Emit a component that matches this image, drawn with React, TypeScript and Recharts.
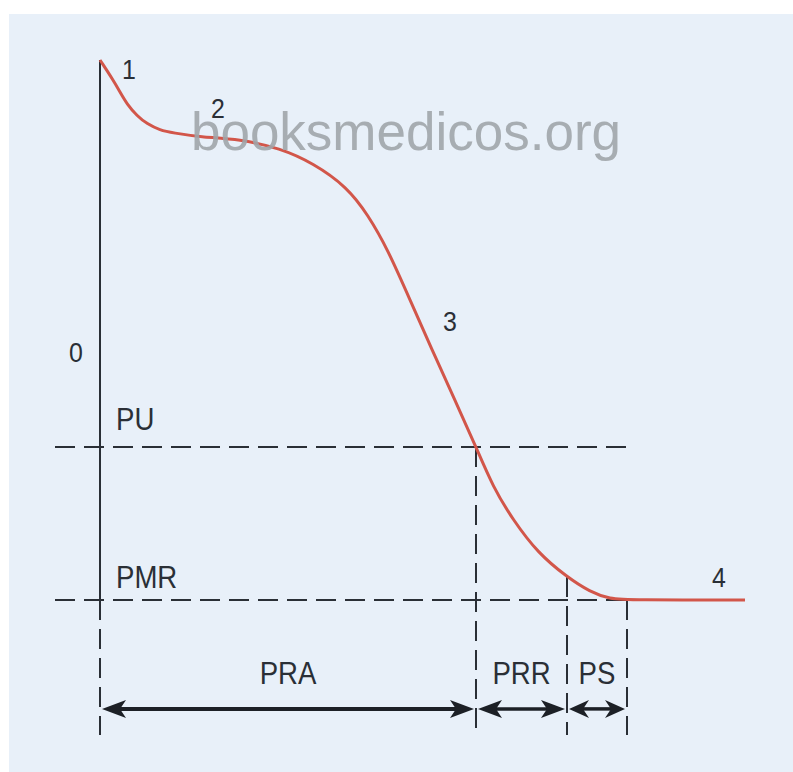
import { LineChart, Line, XAxis, YAxis, ReferenceLine, ReferenceDot } from 'recharts'

// cardiac action potential: time (ms) vs membrane potential (mV)
const timeMs = [0, 5.2, 8, 10.8, 14.8, 18.8, 24, 29.2, 40, 56, 72, 85.2, 98.8, 107.2, 115.2, 124, 132.8, 142, 150.4, 157.2, 165.2, 175.2, 186.8, 196, 204, 212, 258]
const potentialMv = [30, 25.6, 22.9, 20.2, 17.6, 15.8, 14.4, 13.8, 12.9, 12.4, 10.4, 7.1, 1.8, -4.4, -12.2, -23.3, -34.4, -45.6, -56, -64.9, -72.2, -79.6, -84.9, -88.2, -89.8, -90, -90]

const PEAK = 30
const PU = -56 // umbral
const PMR = -90 // potencial de membrana en reposo
// limits of the refractory periods (ms)
const periodEdges = [0, 150.4, 186.8, 210.8]
const periodLabels = ['PRA', 'PRR', 'PS']
const phaseLabels = ['0', '1', '2', '3', '4']

const data = timeMs.map((t, i) => ({ t, v: potentialMv[i] }))

const INK = '#2a2f36'
const FONT = '"Liberation Sans", Arial, Helvetica, sans-serif'

const txt = (label: string, size: number, anchor: 'start' | 'middle' = 'middle') => (p: any) => (
  <text
    transform={`translate(${p.cx},${p.cy}) scale(0.89,1)`}
    textAnchor={anchor}
    dominantBaseline="central"
    fontFamily={FONT}
    fontSize={size}
    fill={INK}
  >
    {label}
  </text>
)

const arrow = (w: number, len: number) => (p: any) => {
  const { x1, y1, x2, y2 } = p
  const hw = 9
  const notch = 6
  const l = `M${x1},${y1} L${x1 + len},${y1 - hw} L${x1 + len - notch},${y1} L${x1 + len},${y1 + hw} Z`
  const r = `M${x2},${y2} L${x2 - len},${y2 - hw} L${x2 - len + notch},${y2} L${x2 - len},${y2 + hw} Z`
  return (
    <g>
      <line x1={x1 + len - notch} y1={y1} x2={x2 - len + notch} y2={y2} stroke="#1c2026" strokeWidth={w} />
      <path d={l} fill="#1c2026" />
      <path d={r} fill="#1c2026" />
    </g>
  )
}

const dash = { stroke: INK, strokeWidth: 2, strokeDasharray: '20 9' }
const BOTTOM = -120
const ARROW_Y = -114.2
const LABEL_Y = -106.2

export default function App() {
  return (
    <div style={{ position: 'absolute', left: 0, top: 0, width: 793, height: 772, background: '#fff', overflow: 'hidden' }}>
      <div style={{ position: 'absolute', left: 9, top: 14, right: 0, bottom: 0, background: '#e8f0f9' }} />
      <div style={{ position: 'absolute', left: 0, top: 0 }}>
        <LineChart width={793} height={772} data={data} margin={{ top: 0, right: 0, bottom: 0, left: 0 }}>
          <XAxis type="number" dataKey="t" hide domain={[-40, 277.2]} allowDataOverflow />
          <YAxis type="number" hide domain={[-128.2222, 43.3333]} allowDataOverflow />

          {/* axis */}
          <ReferenceLine segment={[{ x: 0, y: PEAK }, { x: 0, y: PMR }]} stroke={INK} strokeWidth={2} />
          <ReferenceLine segment={[{ x: 0, y: PMR }, { x: 0, y: BOTTOM }]} {...dash} />

          {/* threshold and resting lines */}
          <ReferenceLine segment={[{ x: -18, y: PU }, { x: periodEdges[3], y: PU }]} {...dash} />
          <ReferenceLine segment={[{ x: -18, y: PMR }, { x: periodEdges[3], y: PMR }]} {...dash} />

          {/* period boundaries */}
          <ReferenceLine segment={[{ x: periodEdges[1], y: PU }, { x: periodEdges[1], y: BOTTOM }]} {...dash} />
          <ReferenceLine segment={[{ x: periodEdges[2], y: -84.9 }, { x: periodEdges[2], y: BOTTOM }]} {...dash} />
          <ReferenceLine segment={[{ x: periodEdges[3], y: PMR }, { x: periodEdges[3], y: BOTTOM }]} {...dash} />

          {periodLabels.map((lab, i) => (
            <ReferenceLine
              key={'a' + lab}
              segment={[{ x: periodEdges[i] + 0.8, y: ARROW_Y }, { x: periodEdges[i + 1] - 0.8, y: ARROW_Y }]}
              shape={arrow(i === 0 ? 4 : 3.5, i === 2 ? 20 : 24)}
            />
          ))}
          {periodLabels.map((lab, i) => (
            <ReferenceDot key={'l' + lab} x={(periodEdges[i] + periodEdges[i + 1]) / 2} y={LABEL_Y} shape={txt(lab, 31)} />
          ))}

          <ReferenceDot x={6.4} y={-49.8} shape={txt('PU', 31, 'start')} />
          <ReferenceDot x={6.4} y={-84.9} shape={txt('PMR', 31, 'start')} />

          <ReferenceDot x={-9.6} y={-35.1} shape={txt(phaseLabels[0], 28)} />
          <ReferenceDot x={11.6} y={27.8} shape={txt(phaseLabels[1], 28)} />
          <ReferenceDot x={47.2} y={19.3} shape={txt(phaseLabels[2], 28)} />
          <ReferenceDot x={140} y={-28.2} shape={txt(phaseLabels[3], 28)} />
          <ReferenceDot x={247.6} y={-85.1} shape={txt(phaseLabels[4], 28)} />

          <Line type="basis" dataKey="v" stroke="#d2564a" strokeWidth={3} dot={false} activeDot={false} isAnimationActive={false} />
        </LineChart>
      </div>
      <div
        style={{
          position: 'absolute',
          left: 0,
          width: 812,
          top: 102,
          textAlign: 'center',
          fontFamily: '"Liberation Sans", Arial, sans-serif',
          fontSize: 53,
          color: 'rgba(160,165,170,0.9)',
          lineHeight: '60px',
        }}
      >
        booksmedicos.org
      </div>
    </div>
  )
}
